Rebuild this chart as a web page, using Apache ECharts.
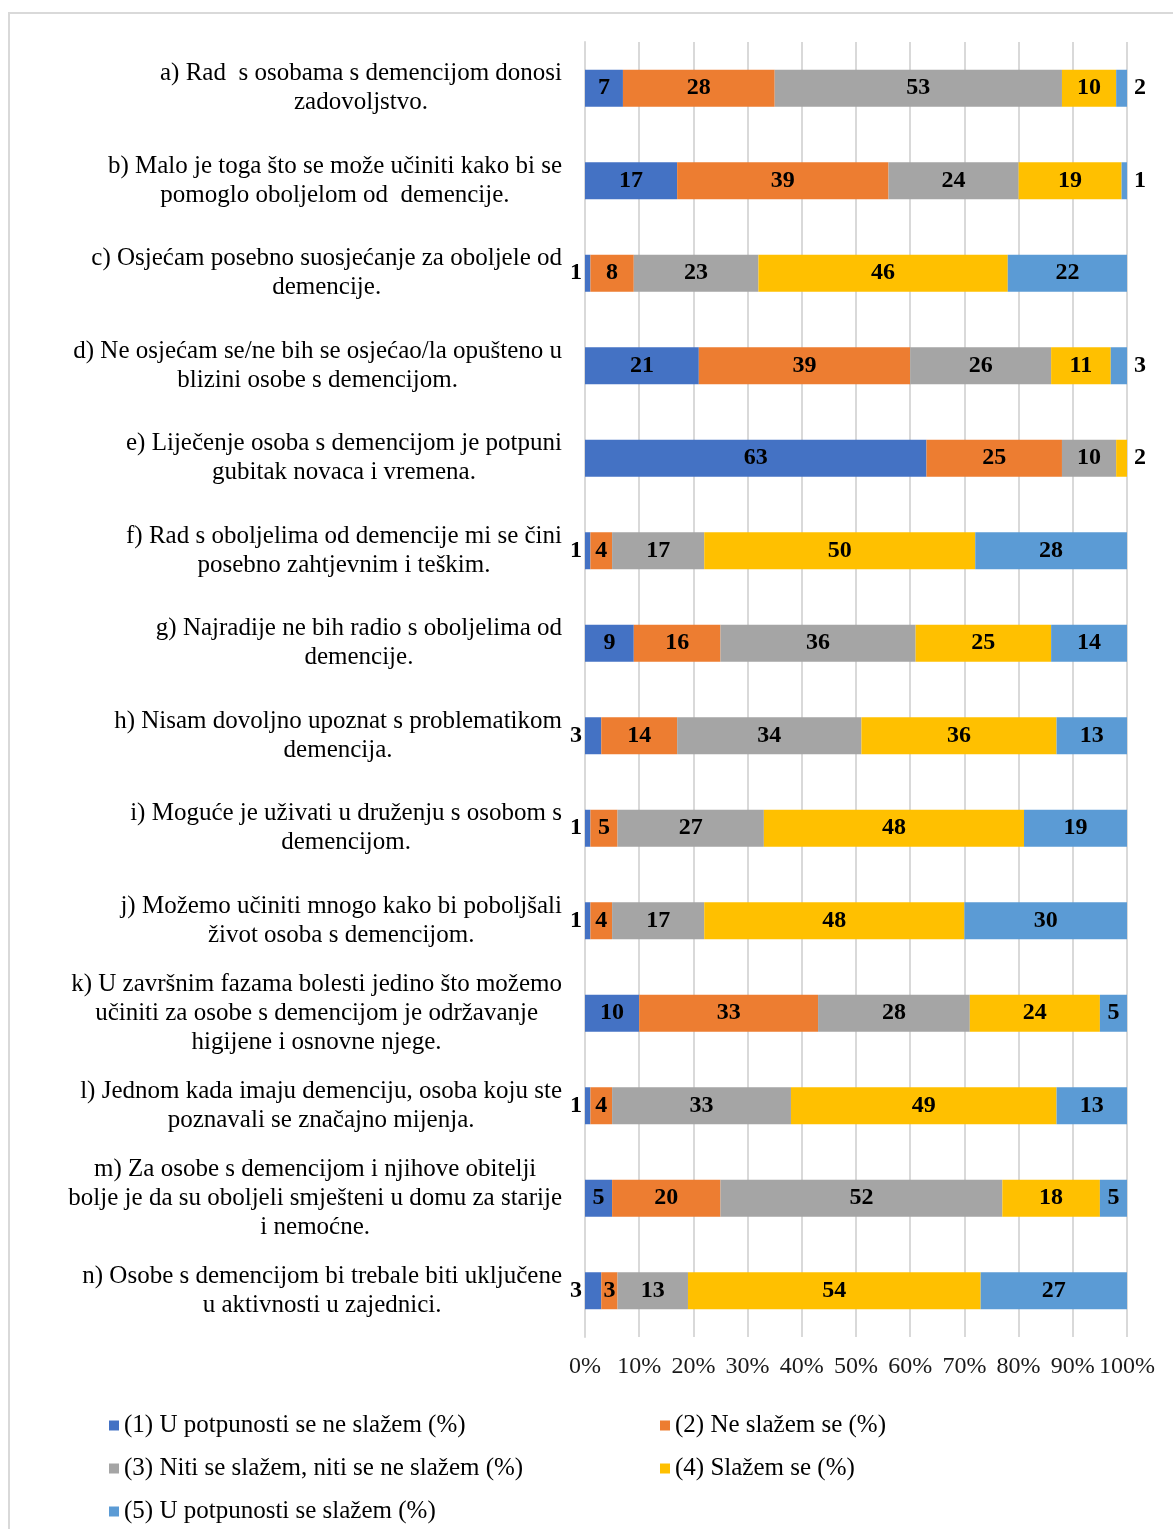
<!DOCTYPE html>
<html>
<head>
<meta charset="utf-8">
<script src="https://cdn.jsdelivr.net/npm/echarts@6/dist/echarts.min.js"></script>
<style>
  html, body { margin: 0; padding: 0; background: #fff; }
  #main { width: 1173px; height: 1529px; }
</style>
</head>
<body>
<div id="main"></div>
<script>
const categories = [
  'a) Rad  s osobama s demencijom donosi\nzadovoljstvo.',
  'b) Malo je toga što se može učiniti kako bi se\npomoglo oboljelom od  demencije.',
  'c) Osjećam posebno suosjećanje za oboljele od\ndemencije.',
  'd) Ne osjećam se/ne bih se osjećao/la opušteno u\nblizini osobe s demencijom.',
  'e) Liječenje osoba s demencijom je potpuni\ngubitak novaca i vremena.',
  'f) Rad s oboljelima od demencije mi se čini\nposebno zahtjevnim i teškim.',
  'g) Najradije ne bih radio s oboljelima od\ndemencije.',
  'h) Nisam dovoljno upoznat s problematikom\ndemencija.',
  'i) Moguće je uživati u druženju s osobom s\ndemencijom.',
  'j) Možemo učiniti mnogo kako bi poboljšali\nživot osoba s demencijom.',
  'k) U završnim fazama bolesti jedino što možemo\nučiniti za osobe s demencijom je održavanje\nhigijene i osnovne njege.',
  'l) Jednom kada imaju demenciju, osoba koju ste\npoznavali se značajno mijenja.',
  'm) Za osobe s demencijom i njihove obitelji\nbolje je da su oboljeli smješteni u domu za starije\ni nemoćne.',
  'n) Osobe s demencijom bi trebale biti uključene\nu aktivnosti u zajednici.'
]

const seriesNames = [
  '(1) U potpunosti se ne slažem (%)',
  '(2) Ne slažem se (%)',
  '(3) Niti se slažem, niti se ne slažem (%)',
  '(4) Slažem se (%)',
  '(5) U potpunosti se slažem (%)'
]

const s1 = [7, 17, 1, 21, 63, 1, 9, 3, 1, 1, 10, 1, 5, 3]
const s2 = [28, 39, 8, 39, 25, 4, 16, 14, 5, 4, 33, 4, 20, 3]
const s3 = [53, 24, 23, 26, 10, 17, 36, 34, 27, 17, 28, 33, 52, 13]
const s4 = [10, 19, 46, 11, 2, 50, 25, 36, 48, 48, 24, 49, 18, 54]
const s5 = [2, 1, 22, 3, 0, 28, 14, 13, 19, 30, 5, 13, 5, 27]

const xTicks = [0, 10, 20, 30, 40, 50, 60, 70, 80, 90, 100]

const colors = ['#4472C4', '#ED7D31', '#A5A5A5', '#FFC000', '#5B9BD5']
const font = '"Liberation Serif", "Times New Roman", serif'

const allSeries = [s1, s2, s3, s4, s5]

// small segments get their label outside the bar, like the original
const lastIndex = (row) => {
  let last = 0
  allSeries.forEach((s, i) => { if (s[row] > 0) last = i })
  return last
}

const makeData = (values, si) => values.map((v, row) => {
  const item = { value: v }
  if (v === 0) {
    item.label = { show: false }
  } else if (si === 0 && v <= 3) {
    item.label = { position: 'left', distance: 3 }
  } else if (si === lastIndex(row) && v <= 3) {
    item.label = { position: 'right', distance: 7 }
  }
  return item
})

const series = allSeries.map((values, si) => ({
  name: seriesNames[si],
  type: 'bar',
  stack: 'total',
  barWidth: 37,
  itemStyle: { color: colors[si] },
  label: {
    show: true,
    position: 'inside',
    color: '#000',
    fontFamily: font,
    fontWeight: 'bold',
    fontSize: 24
  },
  data: makeData(values, si)
}))

const legendText = { fontFamily: font, fontSize: 25, color: '#000' }

const option = {
  animation: false,
  backgroundColor: '#fff',
  graphic: [{
    type: 'rect',
    z: -10,
    shape: { x: 9, y: 13, width: 1300, height: 1700 },
    style: { fill: 'none', stroke: '#d9d9d9', lineWidth: 2 }
  }],
  grid: { left: 585, right: 46, top: 42, bottom: 192, containLabel: false },
  legend: [
    {
      orient: 'vertical',
      left: 104,
      top: 1408,
      itemWidth: 10,
      itemHeight: 10,
      itemGap: 18,
      icon: 'rect',
      textStyle: legendText,
      data: [seriesNames[0], seriesNames[2], seriesNames[4]]
    },
    {
      orient: 'vertical',
      left: 655,
      top: 1408,
      itemWidth: 10,
      itemHeight: 10,
      itemGap: 18,
      icon: 'rect',
      textStyle: legendText,
      data: [seriesNames[1], seriesNames[3]]
    }
  ],
  xAxis: {
    type: 'value',
    min: xTicks[0],
    max: xTicks[xTicks.length - 1],
    interval: 10,
    axisLine: { show: false },
    axisTick: { show: false },
    splitLine: { lineStyle: { color: '#d9d9d9', width: 2 } },
    axisLabel: {
      formatter: '{value}%',
      fontFamily: font,
      fontSize: 24,
      color: '#1a1a1a',
      margin: 18
    }
  },
  yAxis: {
    type: 'category',
    inverse: true,
    data: categories,
    axisLine: { show: true, lineStyle: { color: '#d9d9d9', width: 2 } },
    axisTick: { show: false },
    axisLabel: {
      align: 'right',
      margin: 23,
      formatter: (val) => val.split('\n').map(l => '{c|' + l + '}').join('\n'),
      rich: {
        c: {
          align: 'center',
          fontFamily: font,
          fontSize: 25,
          lineHeight: 29,
          color: '#000'
        }
      }
    }
  },
  series: series
}

const chart = echarts.init(document.getElementById('main'))
chart.setOption(option)
</script>
</body>
</html>
